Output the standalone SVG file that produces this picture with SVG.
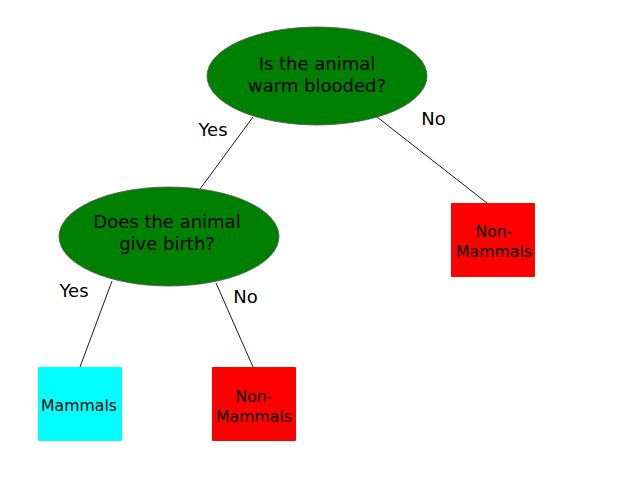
<svg xmlns="http://www.w3.org/2000/svg" width="640" height="480" viewBox="0 0 640 480">
<style>
text{font-family:"DejaVu Sans","Liberation Sans",sans-serif;fill:#000;text-anchor:middle}
.q{font-size:18px}
.lbl{font-size:18px}
.b{font-size:15.7px}
.ell{fill:#008000;stroke:#555;stroke-width:0.8}
.edge{stroke:#000;stroke-width:0.9;fill:none}
</style>
<rect width="640" height="480" fill="#fff"/>
<g id="connectors">
<line class="edge" x1="253" y1="117" x2="200" y2="189"/>
<line class="edge" x1="377" y1="117" x2="487" y2="203"/>
<line class="edge" x1="112" y1="281" x2="80" y2="367"/>
<line class="edge" x1="216" y1="283" x2="253" y2="367"/>
<text class="lbl" x="213" y="136">Yes</text>
<text class="lbl" x="433.5" y="125">No</text>
<text class="lbl" x="74" y="297">Yes</text>
<text class="lbl" x="245.5" y="303">No</text>
</g>
<g id="warm">
<ellipse class="ell" cx="317" cy="76" rx="110" ry="49"/>
<text class="q" x="317" y="70">Is the animal</text>
<text class="q" x="317" y="92">warm blooded?</text>
</g>
<g id="birth">
<ellipse class="ell" cx="169" cy="236.5" rx="110" ry="49.5"/>
<text class="q" x="167" y="228">Does the animal</text>
<text class="q" x="167" y="250">give birth?</text>
</g>
<g id="nonmammals1">
<rect x="451" y="203" width="84" height="74" rx="1" fill="#ff0000"/>
<text class="b" x="494" y="237">Non-</text>
<text class="b" x="494" y="257">Mammals</text>
</g>
<g id="mammals">
<rect x="38" y="367" width="84" height="74" rx="1" fill="#00ffff"/>
<text class="b" x="79" y="411">Mammals</text>
</g>
<g id="nonmammals2">
<rect x="212" y="367" width="84" height="74" rx="1" fill="#ff0000"/>
<text class="b" x="254" y="402">Non-</text>
<text class="b" x="254" y="422">Mammals</text>
</g>
</svg>
